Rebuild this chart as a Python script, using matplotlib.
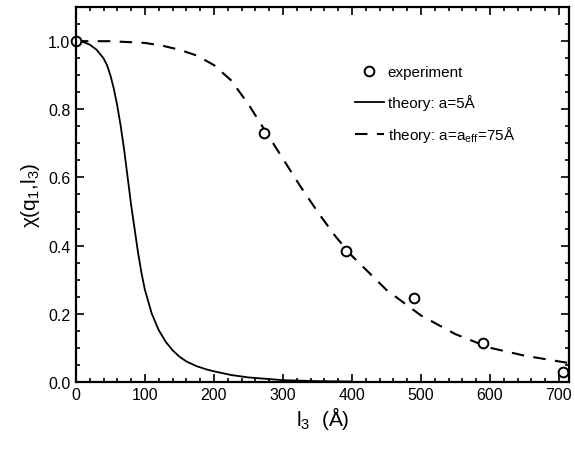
import matplotlib
matplotlib.use("Agg")
import matplotlib.pyplot as plt
from matplotlib.ticker import MultipleLocator, FormatStrFormatter

plt.rcParams['font.family'] = ['Liberation Sans', 'DejaVu Sans']
plt.rcParams['mathtext.fontset'] = 'custom'
plt.rcParams['mathtext.rm'] = 'Liberation Sans'
plt.rcParams['mathtext.it'] = 'Liberation Sans'

# experiment
exp_x = [0, 272, 392, 490, 590, 706]
exp_y = [1.0, 0.73, 0.385, 0.245, 0.115, 0.03]

# theory a = 5 Å (solid)
sol_x = [0, 10, 20, 30, 40, 45, 50, 55, 60, 65, 70, 75, 80, 85, 90, 95, 100, 110,
         120, 130, 140, 150, 160, 175, 190, 200, 225, 250, 300, 350, 400]
sol_y = [1.0, 0.998, 0.99, 0.975, 0.95, 0.93, 0.90, 0.86, 0.81, 0.75, 0.68, 0.60,
         0.52, 0.45, 0.38, 0.32, 0.27, 0.20, 0.152, 0.118, 0.093, 0.074, 0.06,
         0.046, 0.036, 0.031, 0.02, 0.013, 0.005, 0.002, 0.001]

# theory a = a_eff = 75 Å (dashed)
das_x = [0, 50, 100, 125, 150, 175, 200, 225, 250, 275, 300, 325, 350, 375, 400,
         450, 500, 550, 600, 650, 700, 712]
das_y = [1.0, 1.0, 0.995, 0.987, 0.975, 0.958, 0.93, 0.885, 0.815, 0.735, 0.655,
         0.575, 0.50, 0.43, 0.37, 0.27, 0.195, 0.14, 0.10, 0.077, 0.06, 0.056]

fig = plt.figure(figsize=(5.75, 4.52), dpi=100)
ax = fig.add_axes([0.132, 0.153, 0.858, 0.829])

ax.plot(sol_x, sol_y, color='black', lw=1.3, label='theory: a=5Å')
ax.plot(das_x, das_y, color='black', lw=1.5, dashes=(6, 4.5),
        label=r'theory: a=a$_{\rm eff}$=75Å')
ax.plot(exp_x, exp_y, 'o', mfc='white', mec='black', mew=1.4, ms=7,
        label='experiment', clip_on=False)

ax.set_xlim(0, 715)
ax.set_ylim(0, 1.1)
ax.xaxis.set_major_locator(MultipleLocator(100))
ax.xaxis.set_minor_locator(MultipleLocator(20))
ax.yaxis.set_major_locator(MultipleLocator(0.2))
ax.yaxis.set_minor_locator(MultipleLocator(0.05))
ax.yaxis.set_major_formatter(FormatStrFormatter('%.1f'))
ax.tick_params(which='both', direction='in', top=True, right=True, labelsize=11.5, width=1.2)
ax.tick_params(which='major', length=6, pad=4)
ax.tick_params(which='minor', length=3)
for s in ax.spines.values():
    s.set_linewidth(1.6)

ax.set_xlabel(r'l$_3$  (Å)', fontsize=15, labelpad=1)
ax.set_ylabel(r'$\chi$(q$_1$,l$_3$)', fontsize=15, labelpad=4)

h, l = ax.get_legend_handles_labels()
ax.legend([h[2], h[0], h[1]], [l[2], l[0], l[1]], frameon=False, fontsize=11,
          loc='upper left', bbox_to_anchor=(0.55, 0.865), borderpad=0,
          handlelength=1.9, handletextpad=0.25, labelspacing=0.95)

fig.savefig('out.png', dpi=100)
